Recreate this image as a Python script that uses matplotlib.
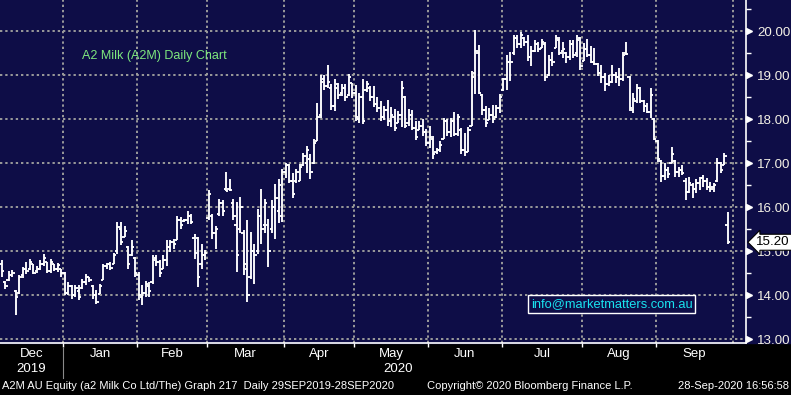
import numpy as np
import matplotlib.pyplot as plt
from matplotlib.patches import Rectangle

# trading-day bars, Dec 2019 -> 28 Sep 2020
highs = [
    14.79, 14.33, 14.55, 14.56, 14.12, 14.45, 14.64, 14.75, 14.83, 14.71, 14.67, 14.79, 14.94, 14.75, 14.83, 14.71, 14.73, 14.60,
    14.52, 14.30, 14.22, 14.22, 14.22, 14.37, 14.48, 14.41, 14.22, 14.11, 14.26, 14.71, 14.73, 14.75, 14.95, 15.67, 15.66, 15.56, 15.11, 15.24, 14.86,
    14.52, 14.22, 14.33, 14.30, 14.90, 14.92, 14.79, 14.90, 15.24, 15.26, 15.28, 15.79, 15.77, 15.73, 15.92, 15.85, 15.39, 15.33, 15.15, 15.02,
    16.39, 15.85, 15.58, 16.19, 16.17, 16.80, 16.64, 16.19, 16.11, 16.23, 15.47, 15.70, 15.43, 15.17, 15.96, 16.42, 16.19, 15.73, 16.15, 16.53, 16.64, 16.87,
    17.01, 16.97, 16.78, 16.86, 16.97, 17.23, 17.39, 17.20, 17.54, 18.37, 19.00, 19.00, 19.23, 18.79, 18.90, 18.83, 18.79, 18.79, 19.02, 18.83,
    18.78, 18.59, 18.90, 18.87, 18.75, 18.75, 18.49, 18.41, 18.29, 18.44, 18.27, 18.22, 18.18, 18.86, 18.52, 18.22, 18.20, 17.96, 17.96, 17.99, 17.77,
    17.84, 17.62, 17.35, 17.49, 18.03, 17.99, 18.03, 18.17, 18.12, 17.80, 17.69, 17.82, 19.10, 20.02, 19.68, 18.56, 18.29, 18.24, 18.32, 18.33, 18.56,
    18.93, 19.46, 19.53, 19.91, 19.91, 19.98, 19.87, 19.91, 19.65, 19.80, 19.76, 19.83, 19.76, 19.46, 19.53, 19.91, 19.87, 19.76, 19.53, 19.80, 19.80, 19.91, 19.87,
    19.72, 19.83, 19.65, 19.61, 19.27, 19.23, 19.05, 19.00, 19.23, 19.08, 19.16, 19.53, 19.74, 18.97, 18.59, 18.80, 18.73, 18.43, 18.36, 18.70, 18.02,
    17.52, 17.07, 16.99, 16.90, 17.37, 17.07, 16.92, 16.95, 16.65, 16.69, 16.54, 16.63, 16.69, 16.73, 16.65, 16.58, 16.54, 17.11, 17.03, 17.23, 15.89,
]
lows = [
    14.42, 14.14, 14.33, 14.41, 13.55, 14.03, 14.39, 14.48, 14.56, 14.48, 14.50, 14.58, 14.67, 14.50, 14.50, 14.55, 14.52, 14.41,
    14.00, 14.00, 13.92, 13.95, 13.89, 14.14, 14.22, 14.30, 13.92, 13.79, 14.02, 14.35, 14.60, 14.58, 14.70, 14.94, 15.13, 15.32, 14.60, 14.88, 14.41,
    13.88, 13.77, 13.95, 13.95, 14.26, 14.67, 14.41, 14.60, 14.67, 14.98, 15.05, 15.24, 15.51, 15.66, 15.62, 15.61, 14.83, 14.18, 14.60, 14.79,
    15.70, 15.28, 15.05, 15.79, 15.79, 16.36, 16.36, 15.70, 14.52, 15.41, 14.45, 13.84, 14.37, 14.26, 14.94, 15.17, 15.41, 14.64, 15.41, 15.28, 15.64, 15.66,
    16.67, 16.55, 16.21, 16.55, 16.59, 16.93, 16.78, 16.63, 16.97, 17.50, 18.03, 18.67, 18.71, 18.20, 18.18, 18.45, 18.52, 18.41, 18.52, 18.48,
    17.95, 17.92, 17.88, 18.62, 18.41, 18.27, 18.17, 17.96, 17.97, 17.84, 17.82, 17.73, 17.92, 17.81, 17.79, 17.85, 17.74, 17.53, 17.74, 17.62, 17.38,
    17.35, 17.09, 17.20, 17.24, 17.54, 17.62, 17.59, 17.62, 17.62, 17.20, 17.17, 17.24, 17.84, 18.56, 18.56, 18.10, 17.82, 17.97, 17.92, 18.03, 18.14,
    18.63, 18.67, 18.86, 19.46, 19.61, 19.61, 19.65, 19.31, 19.20, 19.53, 19.53, 19.61, 18.86, 18.97, 19.20, 19.61, 19.46, 19.38, 19.27, 19.35, 19.38, 19.42, 19.12,
    19.31, 19.42, 19.27, 19.23, 18.97, 18.82, 18.63, 18.75, 18.82, 18.82, 18.74, 18.86, 19.46, 18.18, 18.14, 18.36, 18.36, 18.17, 18.13, 18.02, 17.52,
    17.03, 16.58, 16.61, 16.65, 16.99, 16.69, 16.69, 16.73, 16.16, 16.31, 16.20, 16.31, 16.39, 16.45, 16.39, 16.35, 16.35, 16.58, 16.77, 16.95, 15.17,
]
opens = [
    14.70, 14.30, 14.35, 14.45, 14.10, 14.05, 14.45, 14.60, 14.60, 14.70, 14.55, 14.60, 14.70, 14.75, 14.55, 14.70, 14.60, 14.60,
    14.50, 14.05, 14.20, 14.00, 14.10, 14.15, 14.30, 14.40, 14.20, 14.00, 13.90, 14.35, 14.65, 14.70, 14.70, 15.00, 15.50, 15.30, 15.10, 14.90, 14.85,
    14.45, 13.95, 14.05, 14.20, 14.30, 14.85, 14.75, 14.60, 14.80, 15.10, 15.20, 15.25, 15.70, 15.68, 15.70, 15.80, 15.30, 15.30, 14.70, 14.90,
    15.75, 15.80, 15.40, 15.85, 16.10, 16.40, 16.40, 16.10, 15.60, 15.50, 15.40, 14.60, 14.40, 15.00, 15.00, 15.80, 15.60, 15.60, 15.50, 16.00, 15.90, 15.80,
    16.80, 16.95, 16.60, 16.60, 16.60, 16.95, 17.00, 17.10, 17.00, 17.50, 18.10, 18.90, 18.75, 18.70, 18.30, 18.80, 18.60, 18.70, 18.55, 18.90,
    18.60, 18.00, 18.50, 18.65, 18.70, 18.50, 18.35, 18.25, 18.05, 18.20, 17.95, 18.05, 17.85, 18.10, 18.50, 17.90, 18.10, 17.80, 17.65, 17.85, 17.70,
    17.45, 17.55, 17.25, 17.30, 17.55, 17.95, 17.70, 17.95, 17.65, 17.75, 17.30, 17.25, 17.85, 19.05, 19.50, 18.55, 18.20, 17.95, 18.10, 18.05, 18.25,
    18.65, 18.90, 19.30, 19.50, 19.85, 19.70, 19.85, 19.75, 19.40, 19.55, 19.70, 19.60, 19.70, 19.00, 19.35, 19.35, 19.80, 19.55, 19.50, 19.40, 19.70, 19.50, 19.85,
    19.30, 19.60, 19.45, 19.30, 19.25, 19.05, 18.95, 18.80, 18.85, 19.00, 18.95, 18.90, 19.50, 18.95, 18.20, 18.40, 18.70, 18.40, 18.30, 18.15, 18.00,
    17.50, 17.05, 16.70, 16.85, 17.00, 17.05, 16.80, 16.85, 16.60, 16.35, 16.50, 16.40, 16.55, 16.65, 16.60, 16.45, 16.45, 16.60, 17.00, 16.95, 15.60,
]
closes = [
    14.55, 14.20, 14.45, 14.50, 13.95, 14.40, 14.60, 14.55, 14.75, 14.50, 14.60, 14.70, 14.85, 14.55, 14.75, 14.60, 14.68, 14.50,
    14.05, 14.20, 14.00, 14.15, 13.95, 14.30, 14.40, 14.35, 14.00, 13.85, 14.20, 14.65, 14.70, 14.62, 14.90, 15.55, 15.20, 15.45, 14.70, 15.10, 14.50,
    14.00, 14.05, 14.25, 14.10, 14.80, 14.75, 14.50, 14.80, 15.10, 15.20, 15.15, 15.70, 15.60, 15.70, 15.80, 15.65, 14.95, 14.40, 14.90, 14.95,
    16.30, 15.40, 15.50, 16.10, 15.90, 16.36, 16.38, 15.80, 14.90, 16.00, 14.70, 14.00, 15.00, 14.90, 15.80, 15.50, 16.10, 15.00, 16.00, 16.20, 16.50, 16.80,
    16.95, 16.60, 16.30, 16.80, 16.90, 17.15, 17.30, 16.80, 17.45, 18.05, 18.85, 18.75, 18.85, 18.30, 18.70, 18.55, 18.70, 18.50, 18.95, 18.60,
    18.05, 18.50, 17.95, 18.80, 18.50, 18.35, 18.25, 18.05, 18.20, 17.95, 18.10, 17.80, 18.10, 18.70, 17.85, 18.10, 17.80, 17.60, 17.85, 17.70, 17.45,
    17.60, 17.20, 17.30, 17.40, 17.95, 17.70, 17.95, 17.65, 18.05, 17.30, 17.25, 17.75, 18.95, 19.55, 18.60, 18.20, 17.90, 18.10, 18.00, 18.25, 18.50,
    18.90, 19.30, 19.30, 19.85, 19.70, 19.90, 19.75, 19.40, 19.55, 19.70, 19.60, 19.75, 18.95, 19.35, 19.30, 19.85, 19.50, 19.60, 19.40, 19.70, 19.45, 19.80, 19.20,
    19.60, 19.45, 19.30, 19.25, 19.05, 18.95, 18.80, 18.85, 19.00, 18.95, 18.90, 19.45, 19.48, 18.25, 18.45, 18.70, 18.40, 18.30, 18.15, 18.55, 17.55,
    17.10, 16.70, 16.85, 16.75, 17.20, 16.80, 16.85, 16.78, 16.35, 16.55, 16.40, 16.55, 16.65, 16.60, 16.45, 16.40, 16.50, 17.00, 16.85, 17.15, 15.20,
]

months = ['Dec', 'Jan', 'Feb', 'Mar', 'Apr', 'May', 'Jun', 'Jul', 'Aug', 'Sep']
month_slots = [18, 21, 20, 22, 20, 21, 21, 23, 21, 22]   # trading-day slots per month
price_ticks = [13, 14, 15, 16, 17, 18, 19, 20]
last_price = 15.20

navy = '#0e0d47'
grid_c = '#9a9a9a'
narrow = ['Liberation Sans Narrow', 'Liberation Sans', 'DejaVu Sans']
plain = ['Liberation Sans', 'DejaVu Sans']

fig = plt.figure(figsize=(7.91, 3.95), dpi=100, facecolor='black')
fig.patches.append(Rectangle((0, 52 / 395), 1, 343 / 395, transform=fig.transFigure,
                             color=navy, zorder=-10))
ax = fig.add_axes([0, 52 / 395, 746 / 791, 343 / 395])
ax.set_facecolor(navy)

x = np.arange(len(highs))
lo = np.array(lows)
hi = np.array(highs)
op = np.clip(opens, lo, hi)
cl = np.clip(closes, lo, hi)

bounds = np.cumsum(month_slots) - 0.5
ax.set_xlim(-0.5, bounds[-1] + 3.7)
ax.set_ylim(12.91, 20.705)

# grid
for y in price_ticks:
    ax.axhline(y, color=grid_c, lw=1.4, ls=(0, (1.2, 1.5)), zorder=1)
for b in bounds:
    ax.axvline(b, color=grid_c, lw=1.4, ls=(0, (1.2, 1.5)), zorder=1)

# OHLC bars
ax.vlines(x, lo, hi, color='white', lw=1.35, zorder=3)
ax.hlines(op, x - 0.65, x, color='white', lw=1.35, zorder=3)
ax.hlines(cl, x, x + 0.65, color='white', lw=1.35, zorder=3)

# spines / axes
for s in ['top', 'left']:
    ax.spines[s].set_visible(False)
ax.spines['right'].set_color('white')
ax.spines['bottom'].set_color('white')
ax.spines['right'].set_linewidth(1.2)
ax.spines['bottom'].set_linewidth(1.2)

ax.yaxis.tick_right()
ax.set_yticks(price_ticks)
ax.set_yticklabels(['%.2f' % t for t in price_ticks], family=plain, fontsize=9.6, color='#f4f1e6')
ax.set_yticks(list(np.array(price_ticks[:-1]) + 0.5) + [20.5], minor=True)
ax.tick_params(axis='y', which='major', length=0, pad=8)
ax.tick_params(axis='y', which='minor', length=3.5, width=1, color='white')
ax.plot([1.004] * len(price_ticks), price_ticks, marker='>', ms=5, color='white', ls='none',
        transform=ax.get_yaxis_transform(), clip_on=False, zorder=5)

ax.set_xticks(bounds[:-1])
ax.set_xticklabels([])
ax.tick_params(axis='x', length=3, width=1, color='white')

# month and year labels
xt = ax.get_xaxis_transform()
starts = np.concatenate([[-0.5], bounds[:-1]])
for m, a, b in zip(months, starts, bounds):
    ax.text((a + b) / 2, -11 / 343, m, transform=xt, ha='center', va='center',
            color='white', fontsize=9.5, family=narrow)
ax.text((starts[0] + bounds[0]) / 2, -26 / 343, '2019', transform=xt, ha='center', va='center',
        color='white', fontsize=9.5, family=narrow)
ax.text((bounds[0] + bounds[-1]) / 2, -26 / 343, '2020', transform=xt, ha='center', va='center',
        color='white', fontsize=9.5, family=narrow)
ax.plot([bounds[0], bounds[0]], [-5 / 343, -35 / 343], transform=xt, clip_on=False,
        color='#8a8a8a', lw=0.8)

# chart annotations
ax.text(82 / 746, 1 - 56 / 343, 'A2 Milk (A2M) Daily Chart', transform=ax.transAxes,
        ha='left', va='center', color='#7ee87e', fontsize=9, family=plain)
ax.text(531 / 746, 1 - 304 / 343, 'info@marketmatters.com.au', transform=ax.transAxes,
        ha='left', va='center', color='#19e3f0', fontsize=9.3, family=plain, zorder=6,
        bbox=dict(boxstyle='square,pad=0.2', fc=navy, ec='white', lw=1))

ax.text(1.014, last_price, '%.2f' % last_price, transform=ax.get_yaxis_transform(),
        ha='left', va='center', color='black', fontsize=9.6, family=plain, zorder=7,
        bbox=dict(boxstyle='larrow,pad=0.15', fc='white', ec='black', lw=0.8))

# footer
fig.text(0.003, 1 - 386 / 395, 'A2M AU Equity (a2 Milk Co Ltd/The) Graph 217  Daily 29SEP2019-28SEP2020',
         ha='left', va='center', color='white', fontsize=8, family=narrow)
fig.text(530 / 791, 1 - 386 / 395, 'Copyright\u00a9 2020 Bloomberg Finance L.P.',
         ha='center', va='center', color='white', fontsize=8, family=narrow)
fig.text(0.997, 1 - 386 / 395, '28-Sep-2020 16:56:58',
         ha='right', va='center', color='white', fontsize=8, family=narrow)

plt.savefig('out.png', dpi=100, facecolor=fig.get_facecolor())
